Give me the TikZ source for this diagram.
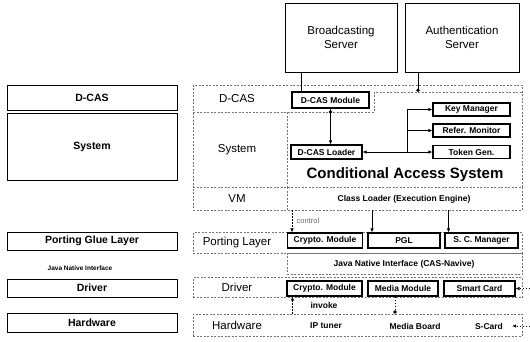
\documentclass[tikz,border=0pt]{standalone}
\usepackage{fontspec}
\setmainfont{Liberation Sans}
\usetikzlibrary{arrows.meta}

\begin{document}
\begin{tikzpicture}[x=1pt,y=-1pt]
      \tikzstyle{every node}=[font=\fontsize{11.5}{12}\selectfont,inner sep=0pt]
      \tikzstyle{server}=[draw,line width=1pt,align=center,font=\fontsize{11.5}{14}\selectfont]
      \tikzstyle{leftbox}=[draw,line width=0.9pt,minimum width=170pt,font=\bfseries\fontsize{10.5}{12}\selectfont]
      \tikzstyle{layer}=[draw=black!55,line width=0.6pt,dash pattern=on 2pt off 1.5pt]
      \tikzstyle{module}=[draw,line width=1.1pt,font=\bfseries\fontsize{8.5}{9}\selectfont]
      \tikzstyle{small}=[font=\bfseries\fontsize{8.5}{9}\selectfont]
      \tikzstyle{link}=[line width=1pt,-{Latex[length=4pt,width=3.5pt]}]
      \tikzstyle{hint}=[line width=0.7pt,dash pattern=on 1.5pt off 1.5pt]
      \useasboundingbox (0,0) rectangle (530,341);
      %%% HELP LINES - uncomment to check positions
      %\draw[step=10pt,gray,very thin] (0,0) grid (530,341);
      %% Servers
      \node[server,minimum width=112pt,minimum height=69pt] (bcast) at (341,37.5) {Broadcasting\\Server};
      \node[server,minimum width=114pt,minimum height=69pt] (auth) at (462,37.5) {Authentication\\Server};
      %% Left column
      \node[leftbox,minimum height=25pt] (lDcas) at (92,97.5) {D-CAS};
      \node[leftbox,minimum height=67pt] (lSys) at (92,146.5) {System};
      \node[leftbox,minimum height=18pt] (lPort) at (92,241) {Porting Glue Layer};
      \node[font=\bfseries\fontsize{6.5}{7}\selectfont] (lJni) at (80,268) {Java Native Interface};
      \node[leftbox,minimum height=18pt] (lDrv) at (92,288) {Driver};
      \node[leftbox,minimum height=19pt] (lHw) at (92,322.5) {Hardware};
      %% D-CAS and System
      \node[layer,minimum width=329pt,minimum height=102pt] (rTop) at (357.5,136) {};
      \draw[layer] (193,112) -- (374,112) -- (374,92) -- (522,92);
      \draw[layer] (287,112) -- (287,187);
      \node (mDcas) at (237,98.5) {D-CAS};
      \node (mSys) at (237,150) {System};
      \node[module,minimum width=77pt,minimum height=16pt] (dcasMod) at (330.5,100) {D-CAS Module};
      \node[module,minimum width=71pt,minimum height=14pt] (dcasLdr) at (326.5,152) {D-CAS Loader};
      \node[module,minimum width=77pt,minimum height=13pt] (keyMgr) at (471.5,109.5) {Key Manager};
      \node[module,minimum width=77pt,minimum height=13pt] (refMon) at (471.5,130.5) {Refer. Monitor};
      \node[module,minimum width=77pt,minimum height=13pt] (tokGen) at (471.5,152) {Token Gen.};
      \node[font=\bfseries\fontsize{15}{16}\selectfont] (casTitle) at (405,175) {Conditional Access System};
      %% VM
      \node[layer,minimum width=329pt,minimum height=23pt] (rVm) at (357.5,198.5) {};
      \draw[layer] (287,187) -- (287,210);
      \node (mVm) at (237,198.5) {VM};
      \node[small] (clsLdr) at (404,199) {Class Loader (Execution Engine)};
      %% Porting Layer
      \node[layer,minimum width=329pt,minimum height=21pt] (rPort) at (357.5,243) {};
      \node (mPort) at (237,243) {Porting Layer};
      \node[module,minimum width=75pt,minimum height=15pt] (cryP) at (325,240.5) {Crypto. Module};
      \node[module,minimum width=72pt,minimum height=15pt] (pgl) at (404,240.5) {PGL};
      \node[module,minimum width=73pt,minimum height=15pt] (scm) at (481.5,240.5) {S. C. Manager};
      \node[layer,minimum width=235pt,minimum height=21pt] (rJni) at (404.5,264) {};
      \node[small] (jni) at (404,264) {Java Native Interface (CAS-Navive)};
      %% Driver
      \node[layer,minimum width=329pt,minimum height=20pt] (rDrv) at (357.5,287.5) {};
      \node (mDrv) at (237,287.5) {Driver};
      \node[module,minimum width=75pt,minimum height=15pt] (cryD) at (324.5,288.5) {Crypto. Module};
      \node[module,minimum width=70pt,minimum height=15pt] (media) at (403,288.5) {Media Module};
      \node[module,minimum width=71pt,minimum height=15pt] (scd) at (479.5,288.5) {Smart Card};
      %% Hardware
      \node[layer,minimum width=329pt,minimum height=22pt] (rHw) at (357.5,325) {};
      \node (mHw) at (237,325) {Hardware};
      \node[small] (ipt) at (326,326) {IP tuner};
      \node[small] (mbd) at (415,326) {Media Board};
      \node[small] (sca) at (489,326) {S-Card};
      %% Links
      \coordinate (casTop) at (418,92);
      \coordinate (casJoin) at (330.5,112);
      \coordinate (br) at (407,152);
      \coordinate (scIn) at (530,288.5);
      \coordinate (hwIn) at (530,326);
      \draw[line width=1pt] ([xshift=-40pt]bcast.south) -- ([xshift=-40pt]bcast.south |- dcasMod.north);
      \draw[line width=0.8pt,-{Circle[length=3.5pt]}] (auth.south -| casTop) -- (casTop);
      \draw[link] (dcasMod.south) -- (dcasMod.south |- dcasLdr.north);
      \fill (casJoin) circle (1.8pt);
      \draw[link,{Latex[length=4pt,width=3.5pt]}-{Latex[length=4pt,width=3.5pt]}] (dcasLdr.east) -- (tokGen.west);
      \draw[link] (br) |- (keyMgr.west);
      \draw[link] (br |- refMon.west) -- (refMon.west);
      % control
      \draw[link,hint] ([xshift=-33pt]cryP.north |- rVm.south) -- ([xshift=-33pt]cryP.north);
      \node[font=\fontsize{7.5}{8}\selectfont,text=black!60] (ctrl) at (308,221) {control};
      \draw[link] ([xshift=-32pt]pgl.north |- rVm.south) -- ([xshift=-32pt]pgl.north);
      \draw[link] ([xshift=-33pt]scm.north |- rVm.south) -- ([xshift=-33pt]scm.north);
      % invoke
      \draw[link,hint] ([xshift=-32pt]cryD.south |- rHw.north) -- ([xshift=-32pt]cryD.south);
      \node[small] (inv) at (324,305) {invoke};
      \draw[hint,line width=0.9pt,-{Circle[length=3.5pt]}] ([xshift=-8pt]media.south) -- ([xshift=-8pt]media.south |- rHw.north);
      \draw[hint,-{Latex[length=4pt,width=3.5pt]}] (scIn) -- (scd.east);
      \draw[hint,-{Latex[length=4pt,width=3.5pt]}] (hwIn) -- ([xshift=9pt]sca.east);
\end{tikzpicture}
\end{document}
